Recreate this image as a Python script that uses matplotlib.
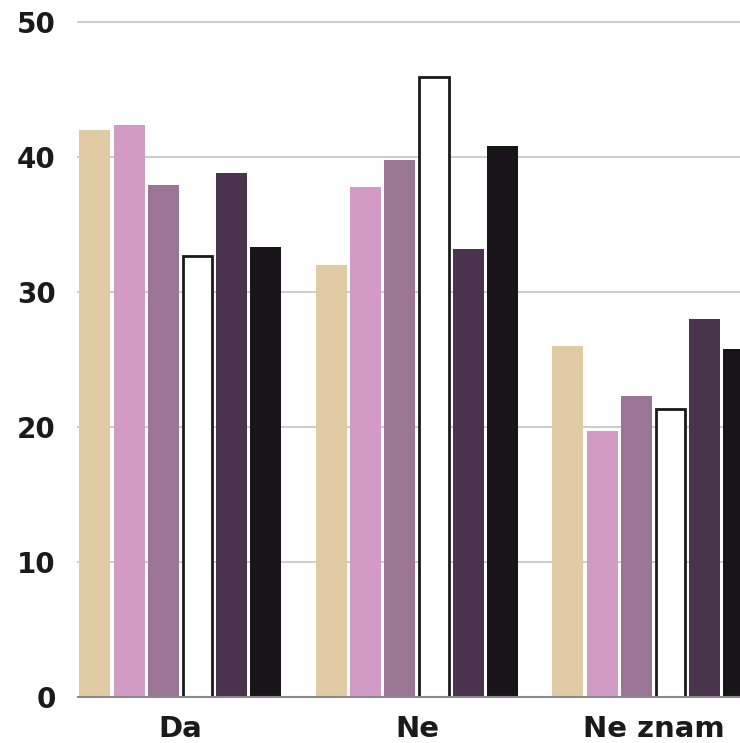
import matplotlib
matplotlib.use("Agg")
import matplotlib.pyplot as plt
import numpy as np

categories = ["Da", "Ne", "Ne znam"]
series_values = [
    [42.0, 32.0, 26.0],
    [42.4, 37.8, 19.7],
    [37.9, 39.8, 22.3],
    [32.7, 45.9, 21.3],
    [38.8, 33.2, 28.0],
    [33.3, 40.8, 25.8],
]
yticks = [0, 10, 20, 30, 40, 50]

colors = ["#e0cba4", "#d19bc6", "#9b7594", "#ffffff", "#4a334d", "#19141a"]
edges = ["#e0cba4", "#d19bc6", "#9b7594", "#1a1a1a", "#4a334d", "#19141a"]

fig = plt.figure(figsize=(7.4, 7.43), dpi=100)
ax = fig.add_axes([78 / 740, 46 / 743, 662 / 740, 675 / 743])

step = 0.1446
width = 0.131
x = np.arange(len(categories))
for j, vals in enumerate(series_values):
    lw = 2.0 if j == 3 else 0.0
    w = width - 0.008 if j == 3 else width
    ax.bar(x + (j - 2.5) * step, vals, width=w, color=colors[j],
           edgecolor=edges[j], linewidth=lw, zorder=3)

ax.set_xlim(-0.433, 2.366)
ax.set_ylim(0, 50)
ax.set_yticks(yticks)
ax.set_xticks(x)
ax.set_xticklabels(categories)
ax.yaxis.grid(True, color="#c8c8c8", linewidth=1.3, zorder=0)
for gl in ax.get_ygridlines():
    gl.set_clip_on(False)
ax.set_axisbelow(True)
for s in ["top", "right", "left"]:
    ax.spines[s].set_visible(False)
ax.spines["bottom"].set_color("#8a8a8a")
ax.spines["bottom"].set_linewidth(1.5)
ax.spines["bottom"].set_zorder(4)
ax.tick_params(axis="both", length=0)
ax.tick_params(axis="y", pad=16)
ax.tick_params(axis="x", pad=13)
for lab in ax.get_yticklabels():
    lab.set_fontfamily("DejaVu Sans")
    lab.set_fontweight("heavy")
    lab.set_fontsize(20)
    lab.set_color("#1a1a1a")
for lab in ax.get_xticklabels():
    lab.set_fontfamily("DejaVu Sans")
    lab.set_fontweight("heavy")
    lab.set_fontsize(21)
    lab.set_color("#1a1a1a")

fig.savefig("out.png", dpi=100)
